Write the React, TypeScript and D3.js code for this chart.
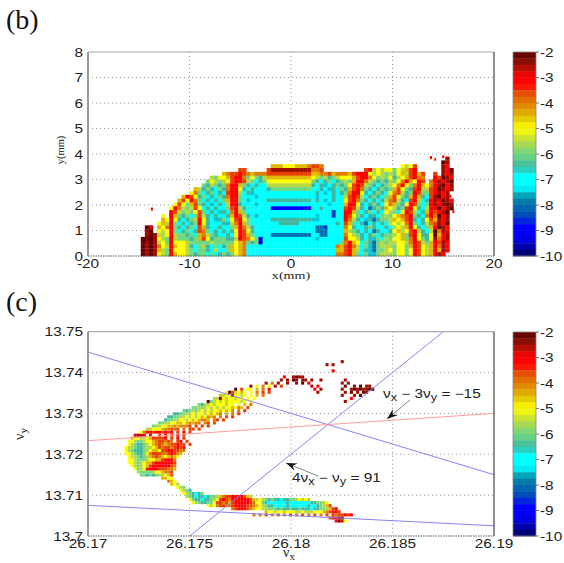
import React from "react";
import * as d3 from "d3";

// ---- colour map
const colorValues = [-2, -2.4, -2.7, -3, -3.3, -3.5, -4, -4.5, -5, -5.5, -6, -6.5, -6.85, -7.3, -7.7, -8, -8.5, -8.8, -9.3, -9.7, -10];
const colorHexes = ["#5a0000", "#8a1000", "#c81000", "#ff0000", "#ff0500", "#e84000", "#e07a00", "#e0b800", "#ffff00", "#b8d840", "#70d880", "#40b8a0", "#00ffff", "#00ffff", "#0090a8", "#0070b0", "#0040c0", "#0000ff", "#0000f0", "#0000a0", "#000060"];
const levelCodes = "0123456789abcdef";
const levelValues = [-2.1, -2.5, -3, -3.5, -4, -4.5, -5, -5.5, -6, -6.5, -7, -7.5, -8, -8.5, -9, -10];
const colorbarTicks = [-2, -3, -4, -5, -6, -7, -8, -9, -10];

// ---- panel (b)
const xTicksB = [-20, -10, 0, 10, 20];
const yTicksB = [0, 1, 2, 3, 4, 5, 6, 7, 8];
const gridOriginB = { x: -14.8, dx: 0.4, dy: 0.15 };
// top row is y 3.75-3.9, bottom row y 0-0.15; groups of ten columns
const amplitudeRows = [
  ".......... .......... .......... .......... .......... .......... .......... .....1.",
  ".......... .......... .......... .......... .......... .......... .......... ....01.",
  ".......... .......... .......... ..55566655 54334..... .......... ....6763.. ....12.",
  ".......... .......... ....33.... .311111111 11443..... .....32767 66867532.. ....120",
  ".......... .......... 5433234544 4333333333 3355443544 4532226767 8786573253 ..3.121",
  ".......... .......786 6532248689 7555555555 5567879876 6653224687 8697653244 ..23012",
  ".......... ......8678 76322378a9 8666666666 6689a98a98 7852247898 9786425623 .421210",
  ".......... .....89789 8422589a9a a777777777 779a9ba989 86323789a9 8764268425 6421021",
  ".......... ...57989a8 942269a9aa a988888888 88aa9ab9a8 9532489a98 9853689327 7320121",
  ".......... ..648a98a9 a3227a9baa aaaaaaaaaa aaa9aba9a9 842269a989 a643798238 832121.",
  ".......... 523698a9a8 94228aaaba aaaaaaaaaa aaabaaa9aa 73237a989a 8536895259 a31021.",
  ".........5 36248a9a9a 85228abaaa a999999999 99a9aba9aa 632489a9a9 74379a327a 9212012",
  "........63 685389aba9 a7229aaaba aaaaaaaaaa aaaaaabaaa 52269a989a 645896238a 8212101",
  ".......624 78736a9a9a a83279aaaa aaeeeeeeee eeaa9aaaaa 32379ac989 567983269a 7220210",
  ".......237 878638a9ab 9a4258aaaa aaaaaaaaaa aaaaaaadaa 2258a98a9a 678a6237a9 523210.",
  ".....6.258 98a8379a9a a952379aba aaaaaaaaaa aaabaaadaa 23689ab9a8 786543289a 424021.",
  ".....56269 a987269ab9 8a63268aaa aa99999999 99bbaaaaaa 2479ab9c98 87565329a9 635121.",
  "....65728a 9a98269aaa 9b74258aaa aaaa99999a aaaaaaaa9a 358a9ca9a9 a7676428a9 743120.",
  ".01.564289 a98a359aa9 aa852479aa aaaaaaaaaa aaaccdaaaa 469aa989aa 9a7675269a 852012.",
  ".10.67628a 98a9348a9a 9a962369aa aaaaaaaaaa aaacccaaaa 5789a9ac9a a965763279 a70412.",
  ".101776278 898a54789a a9a62358aa aacccccccc ccaaccaaaa 46789a98a9 8876583269 960521.",
  "0001678278 8898536988 899723468e aaaaaaaaaa aaabaaaaaa 36679a9b8a 7866584268 961421.",
  "0101768266 6788888788 888654898e aaaaaaaaaa aaaaaaaaa8 4256a89c87 8776674237 852312.",
  "0101467256 679a879a8a 985654aaaa aaaaaaaaaa aaaaaaaa45 3247a8bc87 7786685236 752412.",
  "0101578266 678a889a7a a85654aaaa aaaaaaaaaa aaaaaaaa55 3257a9bc88 7686686236 752512.",
  "0101678256 678988a8a9 898654aaaa aaaaaaaaaa aaaaaaaa44 3258a8bb87 7786686236 75212..",
];
// stray particles above the amplitude map: x (mm), y (mm), level
const strayX = [-13.8, -13.9, 13.7, 14.1, 15.9, 15.6, 14.9];
const strayY = [1.9, 1.2, 3.92, 3.85, 1.8, 2.4, 3.95];
const strayLevel = [2, 2, 2, 3, 2, 2, 2];

// ---- panel (c)
const xTicksC = [26.17, 26.175, 26.18, 26.185, 26.19];
const yTicksC = [13.7, 13.71, 13.72, 13.73, 13.74, 13.75];
const gridOriginC = { x: 26.1712, y: 13.7033, dx: 0.00015, dy: 0.00075 };
// row index, first column, cell levels ('.' = no particle)
const tuneRows: [number, number, string][] = [
  [0, 73, "2026"],
  [1, 71, "32211"],
  [2, 46, "4.4.3.4.3.4.3.4.3.4.3.4.3.3 4 3 3 2 3 2"],
  [3, 50, "5667667666776777666543223"],
  [4, 39, "4322234 56677 88898998998999 a99887532"],
  [5, 31, "67643 344 3222233 45678 99aaaa9aaaaaa9 aa98753"],
  [6, 26, "6789988 633 435 3222223 46689 aaaaaa9aaaaaaa 998876"],
  [7, 25, "689 9a9987 6323 42222223 57678 9899a99887 6767"],
  [8, 24, "789a99a988 7543322 22357"],
  [9, 23, "6789a98"],
  [10, 22, "6789"],
  [11, 21, "678"],
  [12, 19, "567"],
  [13, 18, "456"],
  [14, 16, "5566"],
  [15, 9, "88989877653"],
  [16, 8, "788887665443"],
  [17, 7, "68762222333445"],
  [18, 6, "678765322222234"],
  [19, 5, "6678765532222223"],
  [20, 5, "6678887665532224"],
  [21, 5, "67789875434565456"],
  [22, 4, "6678998643334432345"],
  [23, 4, "67899987655633223344"],
  [24, 4, "67789987765343343232"],
  [25, 5, "6789987654345433233.3"],
  [26, 5, "667887665433434.32.3"],
  [27, 6, "566776533332.3.2.3.."],
  [28, 7, "2112.2..3.2.3.2.3"],
  [29, 9, "64223223232.3.2.3"],
  [30, 11, "776665443 43.4.33.3"],
  [31, 13, "8776655454443.3.3.3"],
  [32, 15, "88776655654544.43.3."],
  [33, 17, "98877667656544 5.43.3"],
  [34, 18, "9988776767656454.4.3.3"],
  [35, 20, "99887767667656 54.5.4.3."],
  [36, 23, "898787676766565 64.4.3"],
  [37, 26, "8878767676766564 5.3"],
  [38, 28, "897767666766.6.5.4"],
  [39, 31, "0876767666676.6."],
  [40, 33, "7716766766.6.6."],
  [41, 35, "576616676.6.5.4"],
  [42, 37, "60376 56.6.4.3.3."],
  [43, 40, "0.3.66.5.4.2."],
  [44, 45, "1.6.4.6.1.3"],
  [45, 50, "1.4.1"],
  [46, 55, "1"],
  [47, 56, "2"],
  [46, 57, "1"],
  [45, 57, "1"],
  [47, 59, "1011"],
  [46, 59, "01.11"],
  [45, 60, "1.0"],
  [46, 65, "1..1"],
  [45, 64, "2"],
  [44, 65, "1.2"],
  [43, 66, "2.1"],
  [42, 67, "1"],
  [46, 76, "1"],
  [45, 75, "1.1"],
  [44, 76, "0"],
  [43, 75, "1"],
  [42, 76, "1"],
  [41, 75, "1"],
  [44, 79, "1.0.11"],
  [43, 78, "10101100"],
  [42, 78, "0.1.01"],
  [41, 79, "1.0"],
  [40, 78, "2"],
  [39, 76, "1"],
  [52, 75, "1"],
  [51, 70, "1.1"],
  [49, 72, "2"],
];

// reference resonance lines: a nux + b nuy = c
const lineA = [3, 1, 4, 1];
const lineB = [2, -3, -1, 4];
const lineC = [106, -15, 91, 81];
const lineColor = ["#8585f5", "#ff9c9c", "#8585f5", "#8585f5"];

const xb = d3.scaleLinear().domain([-20, 20]).range([88, 494]);
const yb = d3.scaleLinear().domain([0, 8]).range([256, 52]);
const xc = d3.scaleLinear().domain([26.17, 26.19]).range([88, 494]);
const yc = d3.scaleLinear().domain([13.7, 13.75]).range([536, 331.7]);
const cbx = [513, 536];
const cby = { b: d3.scaleLinear().domain([-2, -10]).range([52, 256]), c: d3.scaleLinear().domain([-2, -10]).range([332, 536]) };
const colorOf = d3.scaleLinear<string>().domain(colorValues).range(colorHexes).interpolate(d3.interpolateRgb).clamp(true);
const levelColor = (ch: string) => colorOf(levelValues[levelCodes.indexOf(ch)]);
const bands = d3.range(32).map((i) => -2 - (i + 0.5) * 0.25);

const SANS = "'Liberation Sans', Arial, sans-serif";
const SERIF = "'Liberation Serif', 'Times New Roman', serif";

function Wide({ x, y, anchor = "middle", children, size = 12 }: any) {
  return (
    <text transform={`translate(${x},${y}) scale(1.28,1)`} textAnchor={anchor} fontFamily={SANS} fontSize={size} fill="#222">
      {children}
    </text>
  );
}

function Frame({ x, y, xt, yt }: any) {
  const [x0, x1] = x.range();
  const [y1, y0] = y.range();
  return (
    <g>
      {xt.slice(1, -1).map((t: number) => (
        <line key={t} x1={x(t)} x2={x(t)} y1={y0} y2={y1} stroke="#777" strokeWidth={0.8} strokeDasharray="1 3" />
      ))}
      {yt.slice(1, -1).map((t: number) => (
        <line key={t} y1={y(t)} y2={y(t)} x1={x0} x2={x1} stroke="#777" strokeWidth={0.8} strokeDasharray="1 3" />
      ))}
    </g>
  );
}

function Border({ x, y, xt, yt, xf, yf }: any) {
  const [x0, x1] = x.range();
  const [y1, y0] = y.range();
  return (
    <g>
      <line x1={x0} x2={x1} y1={y0} y2={y0} stroke="#aaa" strokeWidth={1.2} />
      <line x1={x1} x2={x1} y1={y0} y2={y1} stroke="#444" strokeWidth={1.2} />
      <line x1={x0} x2={x1} y1={y1} y2={y1} stroke="#555" strokeWidth={1} strokeDasharray="1.5 1" />
      <line x1={x0} x2={x0} y1={y0} y2={y1} stroke="#999" strokeWidth={2} />
      {xt.map((t: number) => (
        <Wide key={t} x={x(t)} y={y1 + 12}>{xf(t)}</Wide>
      ))}
      {yt.map((t: number) => (
        <Wide key={t} x={x0 - 5} y={y(t) + 4.5} anchor="end">{yf(t)}</Wide>
      ))}
    </g>
  );
}

function Colorbar({ scale }: any) {
  return (
    <g>
      {bands.map((v, i) => (
        <rect key={i} x={cbx[0]} width={cbx[1] - cbx[0]} y={scale(v + 0.125)} height={scale(v - 0.125) - scale(v + 0.125) + 0.4} fill={colorOf(v)} />
      ))}
      <rect x={cbx[0]} width={cbx[1] - cbx[0]} y={scale(-2)} height={scale(-10) - scale(-2)} fill="none" stroke="#888" strokeWidth={0.8} />
      {colorbarTicks.map((t) => (
        <g key={t}>
          <line x1={cbx[1]} x2={cbx[1] + 3} y1={scale(t)} y2={scale(t)} stroke="#555" strokeWidth={0.8} />
          <Wide x={cbx[1] + 4} y={scale(t) + 4.5} anchor="start">{String(t)}</Wide>
        </g>
      ))}
    </g>
  );
}

function LabelNu({ sub, x, y, rotate = false }: any) {
  return (
    <text transform={`translate(${x},${y}) ${rotate ? "rotate(-90)" : ""}`} fontFamily={SERIF} fontSize={14} fill="#222" textAnchor="middle">
      ν<tspan fontSize={11} dy={3}>{sub}</tspan>
    </text>
  );
}

function Annotation({ tx, ty, from, to, children }: any) {
  const ang = Math.atan2(to[1] - from[1], to[0] - from[0]);
  const tip = (d: number, s: number) => [to[0] - d * Math.cos(ang) - s * Math.sin(ang), to[1] - d * Math.sin(ang) + s * Math.cos(ang)].join(",");
  return (
    <g>
      <line x1={from[0]} y1={from[1]} x2={to[0]} y2={to[1]} stroke="#666" strokeWidth={0.8} />
      <polygon points={`${to.join(",")} ${tip(11, 4)} ${tip(7, 0)} ${tip(11, -4)}`} fill="#111" />
      <text transform={`translate(${tx},${ty}) scale(1.28,1)`} fontFamily={SANS} fontSize={12} fill="#222">
        {children}
      </text>
    </g>
  );
}

const clean = (s: string) => s.replace(/\s/g, "");

export default function App() {
  const wx = xb(gridOriginB.dx) - xb(0) + 0.3;
  const hy = yb(0) - yb(gridOriginB.dy) + 0.3;
  const wc = xc(26.17 + gridOriginC.dx) - xc(26.17);
  const hc = yc(13.7) - yc(13.7 + gridOriginC.dy);
  return (
    <svg width={564} height={563} style={{ position: "absolute", left: 0, top: 0, background: "#fff" }}>
      <defs>
        <filter id="soft" x="-5%" y="-5%" width="110%" height="110%">
          <feGaussianBlur stdDeviation="0.45" />
        </filter>
        <clipPath id="cc"><rect x={88} y={331.7} width={406} height={204.3} /></clipPath>
      </defs>
      <text x={6} y={29} fontFamily={SERIF} fontSize={28} fill="#111">(b)</text>
      <text x={6} y={311} fontFamily={SERIF} fontSize={28} fill="#111">(c)</text>

      {/* panel b */}
      <Frame x={xb} y={yb} xt={xTicksB} yt={yTicksB} />
      <g filter="url(#soft)">
        {amplitudeRows.map((row, i) => {
          const r = amplitudeRows.length - 1 - i;
          return clean(row).split("").map((ch, c) =>
            ch === "." ? null : (
              <rect key={`${i}-${c}`} x={xb(gridOriginB.x + c * gridOriginB.dx)} y={yb((r + 1) * gridOriginB.dy)} width={wx} height={hy} fill={levelColor(ch)} />
            )
          );
        })}
        {strayX.map((x, i) => (
          <rect key={i} x={xb(x)} y={yb(strayY[i])} width={2} height={3} fill={levelColor(levelCodes[strayLevel[i]])} />
        ))}
      </g>
      <Border x={xb} y={yb} xt={xTicksB} yt={yTicksB} xf={String} yf={String} />
      <Colorbar scale={cby.b} />
      <text transform="translate(291,279) scale(1.28,1)" textAnchor="middle" fontFamily={SERIF} fontSize={11} fill="#222">x(mm)</text>
      <text transform="translate(64,150) rotate(-90)" textAnchor="middle" fontFamily={SERIF} fontSize={10.5} fill="#222">y(mm)</text>

      {/* panel c */}
      <Frame x={xc} y={yc} xt={xTicksC} yt={yTicksC} />
      <g filter="url(#soft)">
        {tuneRows.map(([row, col, cells], i) =>
          clean(cells).split("").map((ch, k) =>
            ch === "." ? null : (
              <rect key={`${i}-${k}`} x={xc(gridOriginC.x + (col + k) * gridOriginC.dx)} y={yc(gridOriginC.y + (row + 1) * gridOriginC.dy)} width={wc} height={hc} fill={levelColor(ch)} />
            )
          )
        )}
      </g>
      <g clipPath="url(#cc)">
        {lineA.map((a, i) => {
          const yAt = (nx: number) => (lineC[i] - a * nx) / lineB[i];
          return <line key={i} x1={xc(26.17)} x2={xc(26.19)} y1={yc(yAt(26.17))} y2={yc(yAt(26.19))} stroke={lineColor[i]} strokeWidth={1} />;
        })}
      </g>
      <Border x={xc} y={yc} xt={xTicksC} yt={yTicksC} xf={(t: number) => String(t)} yf={(t: number) => String(t)} />
      <Colorbar scale={cby.c} />
      <LabelNu sub="x" x={289} y={557} />
      <LabelNu sub="y" x={24} y={434} rotate />
      <Annotation tx={383} ty={398} from={[410, 400]} to={[387, 419]}>
        ν<tspan fontSize={10} dy={3}>x</tspan><tspan dy={-3}> − 3ν</tspan><tspan fontSize={10} dy={3}>y</tspan><tspan dy={-3}> = −15</tspan>
      </Annotation>
      <Annotation tx={292} ty={482} from={[318, 476]} to={[286, 463]}>
        4ν<tspan fontSize={10} dy={3}>x</tspan><tspan dy={-3}> − ν</tspan><tspan fontSize={10} dy={3}>y</tspan><tspan dy={-3}> = 91</tspan>
      </Annotation>
    </svg>
  );
}
